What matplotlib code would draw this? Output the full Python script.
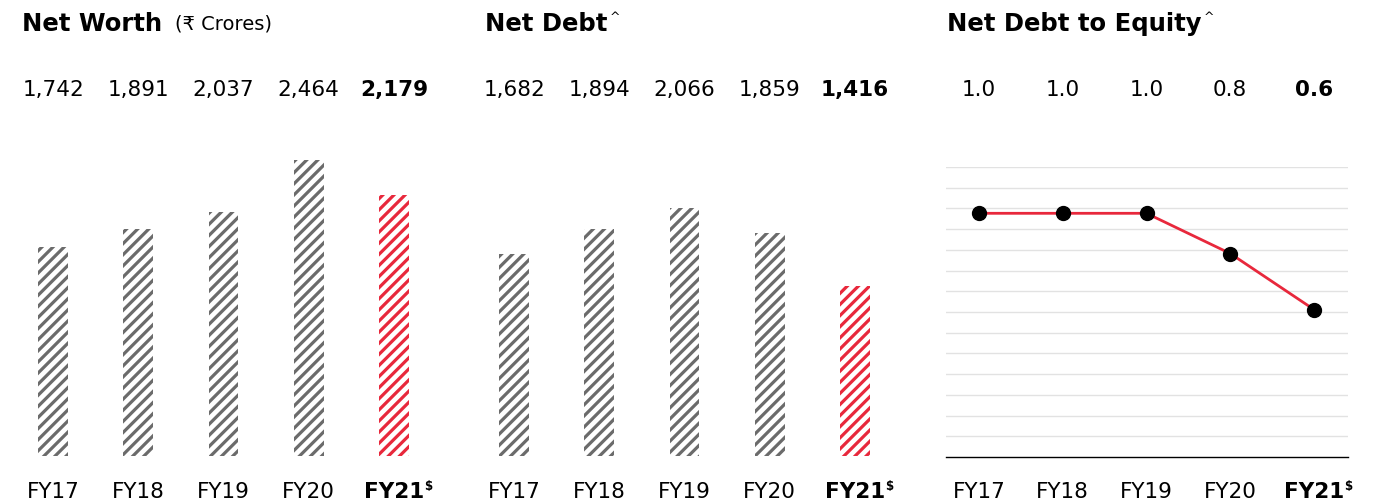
import matplotlib
matplotlib.use('Agg')
import matplotlib.pyplot as plt
import matplotlib.transforms as mtransforms

plt.rcParams['font.family'] = ['DejaVu Sans']
plt.rcParams['hatch.linewidth'] = 2.3

anios = ['FY17', 'FY18', 'FY19', 'FY20', 'FY21']
patrimonio = [1742, 1891, 2037, 2464, 2179]
patrimonio_txt = ['1,742', '1,891', '2,037', '2,464', '2,179']
deuda = [1682, 1894, 2066, 1859, 1416]
deuda_txt = ['1,682', '1,894', '2,066', '1,859', '1,416']
ratio = [1.0, 1.0, 1.0, 0.835, 0.605]
ratio_txt = ['1.0', '1.0', '1.0', '0.8', '0.6']

GRIS = '#6b6b6b'
ROJO = '#e8283c'

W, H = 1395, 503
fig = plt.figure(figsize=(W / 100, H / 100), dpi=100)


def caja(left_px, base_px, width_px, height_px):
	return [left_px / W, (H - base_px) / H, width_px / W, height_px / H]


def fila_texto(ax, textos, y_px, tam):
	# Textos centrados en cada categoria, con la altura fijada en pixeles de la figura
	trans = mtransforms.blended_transform_factory(ax.transData, fig.transFigure)
	objs = []
	for i, t in enumerate(textos):
		peso = 'bold' if i == len(textos) - 1 else 'normal'
		objs.append(ax.text(i, (H - y_px) / H, t, transform=trans, ha='center', va='center',
				fontsize=tam, fontweight=peso, color='black'))
	return objs


def ejes_x(ax):
	ax.set_xticks([])
	ax.set_yticks([])
	objs = fila_texto(ax, anios, 492, 15.5)
	ax.annotate('$', xy=(1, 1), xycoords=objs[-1], xytext=(0, 1.5), textcoords='offset points',
				fontsize=8.5, fontweight='bold', ha='left', va='top', annotation_clip=False)


def titulo(x_px, texto, caret=False, extra=None):
	t = fig.text(x_px / W, (H - 24) / H, texto, fontsize=17.5, fontweight='bold', va='center', ha='left')
	if caret:
		fig.axes[0].annotate('^', xy=(1, 1), xycoords=t, xytext=(1.5, 1), textcoords='offset points',
				fontsize=9, ha='left', va='top', annotation_clip=False)
	if extra:
		fig.axes[0].annotate(extra, xy=(1, 0.5), xycoords=t, xytext=(9, 0), textcoords='offset points',
				fontsize=14, ha='left', va='center', annotation_clip=False)


def graficar_barras(ax, valores):
	colores = [GRIS] * (len(valores) - 1) + [ROJO]
	for i, v in enumerate(valores):
		ax.bar(i, v, width=0.35, color='white', edgecolor=colores[i], hatch='///', linewidth=0)
	ax.set_xlim(-0.4, 4.4)
	ax.set_ylim(0, 2550)
	for s in ax.spines.values():
		s.set_visible(False)
	ejes_x(ax)


# Grafica 1: patrimonio
ax1 = fig.add_axes(caja(19, 456, 409, 306))
graficar_barras(ax1, patrimonio)
fila_texto(ax1, patrimonio_txt, 90, 15.5)

# Grafica 2: deuda neta
ax2 = fig.add_axes(caja(480, 456, 409, 306))
graficar_barras(ax2, deuda)
fila_texto(ax2, deuda_txt, 90, 15.5)

# Grafica 3: deuda a patrimonio
ax3 = fig.add_axes(caja(945.5, 457, 402, 290))
ax3.plot(range(len(ratio)), ratio, color=ROJO, lw=2, zorder=3)
ax3.plot(range(len(ratio)), ratio, 'o', color='black', markersize=10, zorder=4)
ax3.set_xlim(-0.4, 4.4)
ax3.set_ylim(0, 1.19)
tope = 1.19
for k in range(1, 15):
	ax3.axhline(tope * k / 14, color='#e2e2e2', lw=1, zorder=1)
for nombre, s in ax3.spines.items():
	s.set_visible(nombre == 'bottom')
ax3.spines['bottom'].set_color('black')
ax3.spines['bottom'].set_linewidth(1)
ejes_x(ax3)
fila_texto(ax3, ratio_txt, 90, 15.5)

titulo(22, 'Net Worth', extra='(₹ Crores)')
titulo(485, 'Net Debt', caret=True)
titulo(947, 'Net Debt to Equity', caret=True)

fig.savefig('out.png', dpi=100, facecolor='white')
